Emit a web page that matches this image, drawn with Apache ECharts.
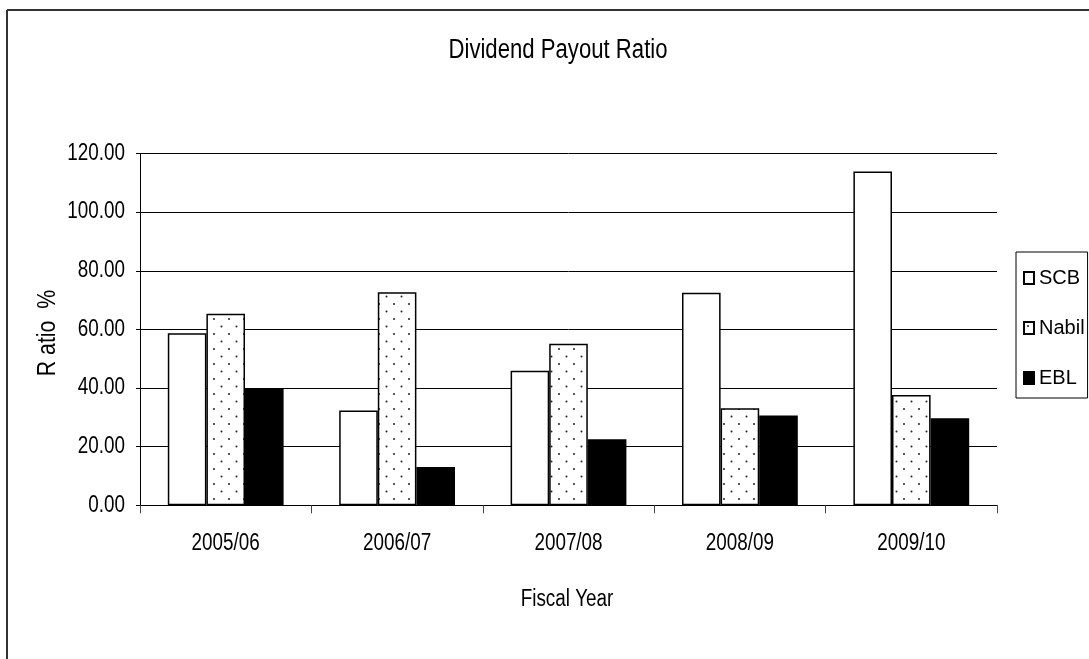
<!DOCTYPE html>
<html>
<head>
<meta charset="utf-8">
<script src="https://cdn.jsdelivr.net/npm/echarts@6/dist/echarts.min.js"></script>
<style>
  html, body { margin: 0; padding: 0; background: #fff; }
  #main { width: 1089px; height: 659px; }
</style>
</head>
<body>
<div id="main"></div>
<script>
const years = ["2005/06", "2006/07", "2007/08", "2008/09", "2009/10"];
const scb = [58.7, 32.3, 45.9, 72.5, 113.9];
const nabil = [65.3, 72.7, 55.1, 33.1, 37.6];
const ebl = [39.9, 13.1, 22.5, 30.6, 29.7];
const yTicks = [0, 20, 40, 60, 80, 100, 120];

const font = '"Liberation Sans", Arial, sans-serif';
// no narrow font here, so squeeze the texts a bit
const narrow = 0.82;

// dotted fill like the old excel pattern
function dots() {
  const c = document.createElement("canvas");
  c.width = 15; c.height = 15;
  const ctx = c.getContext("2d");
  ctx.fillStyle = "#fff";
  ctx.fillRect(0, 0, 15, 15);
  ctx.fillStyle = "#222";
  ctx.beginPath(); ctx.arc(4, 4, 1, 0, Math.PI * 2); ctx.fill();
  ctx.beginPath(); ctx.arc(11.5, 11.5, 1, 0, Math.PI * 2); ctx.fill();
  return c;
}

const chart = echarts.init(document.getElementById("main"));

const bar = (name, data, fill) => ({
  name: name,
  type: "bar",
  data: data,
  barWidth: 38.6,
  barGap: "0%",
  itemStyle: { color: fill, borderColor: "#000", borderWidth: 1.5 },
});

const label = (text, x, y, size, rot, align) => ({
  type: "text",
  x: x,
  y: y,
  rotation: rot || 0,
  scaleX: narrow,
  style: {
    text: text,
    font: size + "px " + font,
    fill: "#000",
    align: align || "center",
    verticalAlign: "middle",
  },
});

const frame = [
  { type: "line", shape: { x1: 7, y1: 10, x2: 1089, y2: 10 }, style: { stroke: "#333", lineWidth: 2 } },
  { type: "line", shape: { x1: 7, y1: 10, x2: 7, y2: 659 }, style: { stroke: "#333", lineWidth: 2 } },
  label("Dividend Payout Ratio", 558, 51, 27),
  label("Fiscal Year", 567, 600, 23),
  label("R atio  %", 48, 333, 26, Math.PI / 2),
];

let option = {
  backgroundColor: "#fff",
  animation: false,
  legend: {
    orient: "vertical",
    left: 1016,
    top: 252,
    padding: [15, 3, 9, 7],
    itemGap: 28,
    itemWidth: 10,
    itemHeight: 12,
    icon: "rect",
    borderColor: "#000",
    borderWidth: 1,
    textStyle: { fontFamily: font, fontSize: 20, lineHeight: 22, color: "#000" },
    data: ["SCB", "Nabil", "EBL"],
  },
  grid: { left: 140, right: 92, top: 153.5, bottom: 153.7 },
  xAxis: {
    type: "category",
    data: years,
    axisLine: { lineStyle: { color: "#000", width: 1 } },
    axisTick: { show: true, alignWithLabel: false, length: 8, lineStyle: { color: "#444" } },
    axisLabel: { show: false },
  },
  yAxis: {
    type: "value",
    min: yTicks[0],
    max: yTicks[yTicks.length - 1],
    interval: 20,
    axisLine: { show: true, lineStyle: { color: "#000", width: 1 } },
    axisTick: { show: true, length: 4, lineStyle: { color: "#000" } },
    axisLabel: { show: false },
    splitLine: { show: true, lineStyle: { color: "#000", width: 1 } },
  },
  graphic: frame,
  series: [
    bar("SCB", scb, "#fff"),
    bar("Nabil", nabil, { image: dots(), repeat: "repeat" }),
    bar("EBL", ebl, "#000"),
  ],
};

chart.setOption(option);

// tick labels drawn narrow, placed from the axis scales
const ticks = [];
years.forEach((y) => {
  const px = chart.convertToPixel({ xAxisIndex: 0 }, y);
  ticks.push(label(y, px, 544, 23));
});
yTicks.forEach((v) => {
  const py = chart.convertToPixel({ yAxisIndex: 0 }, v);
  ticks.push(label(v.toFixed(2), 125, py, 23, 0, "right"));
});
chart.setOption({ graphic: frame.concat(ticks) });
</script>
</body>
</html>
